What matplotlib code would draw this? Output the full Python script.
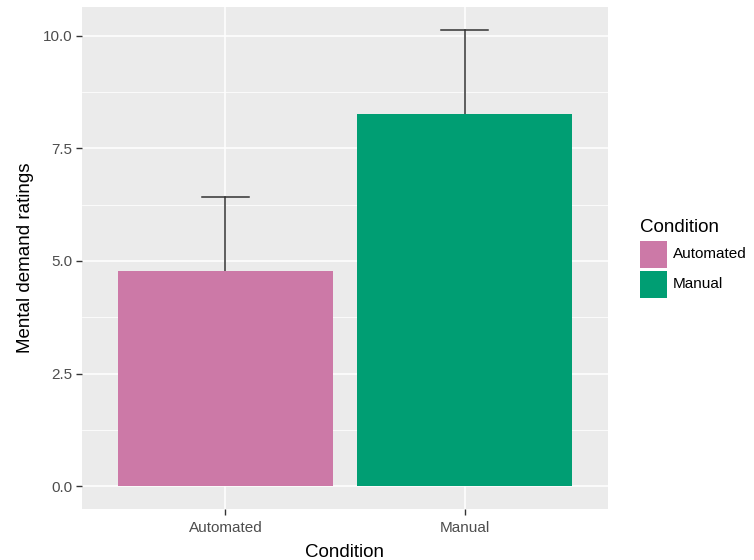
import matplotlib
matplotlib.use("Agg")
import matplotlib.pyplot as plt
from matplotlib.patches import Rectangle
import numpy as np

categories = ["Automated", "Manual"]
means = [4.77, 8.26]
upper = [6.41, 10.13]
colors = ["#CC79A7", "#009E73"]
yticks = [0.0, 2.5, 5.0, 7.5, 10.0]
ytick_labels = ["0.0", "2.5", "5.0", "7.5", "10.0"]

plt.rcParams['font.family'] = ['Liberation Sans', 'DejaVu Sans']

W, H = 754, 560
fig = plt.figure(figsize=(W/100, H/100), dpi=100)
ax = fig.add_axes([82/W, 1 - 509/H, (608-82)/W, (509-7)/H])
ax.set_facecolor("#EBEBEB")

x = np.arange(1, len(categories) + 1)
# error bars (upper only)
for xi, m, u in zip(x, means, upper):
    ax.plot([xi, xi], [m, u], color="#333333", lw=1.1, zorder=2)
    ax.plot([xi - 0.1, xi + 0.1], [u, u], color="#333333", lw=1.1, zorder=2)
ax.bar(x, means, width=0.9, color=colors, zorder=3)

ymax = max(upper)
ax.set_ylim(-0.05 * ymax, ymax * 1.05)
ax.set_xlim(0.4, len(categories) + 0.6)
ax.set_yticks(yticks)
ax.set_yticklabels(ytick_labels)
ax.set_yticks([1.25, 3.75, 6.25, 8.75], minor=True)
ax.set_xticks(x)
ax.set_xticklabels(categories)
ax.grid(which="major", color="white", lw=1.1, zorder=0)
ax.grid(which="minor", axis="y", color="white", lw=0.55, zorder=0)
ax.set_axisbelow(True)
for s in ax.spines.values():
    s.set_visible(False)
ax.tick_params(axis="both", which="major", length=4, color="#333333", width=1,
               labelcolor="#4D4D4D", labelsize=11, pad=3)
ax.tick_params(axis="x", which="major", pad=5)
ax.tick_params(axis="both", which="minor", length=0)
ax.set_xlabel("Condition", fontsize=13.5, color="black", labelpad=6)
ax.set_ylabel("Mental demand ratings", fontsize=13.5, color="black", labelpad=6)

# legend
fig.text(640/W, 1 - 227/H, "Condition", fontsize=13.5, va="center", ha="left")
key_tops = [241, 271]
for c, lab, kt in zip(colors, categories, key_tops):
    fig.add_artist(Rectangle((640/W, 1 - (kt+27)/H), 27/W, 27/H,
                             transform=fig.transFigure, facecolor=c, edgecolor="none"))
    fig.text(673/W, 1 - (kt+13.5)/H, lab, fontsize=11, va="center", ha="left")

fig.savefig("out.png", dpi=100)
